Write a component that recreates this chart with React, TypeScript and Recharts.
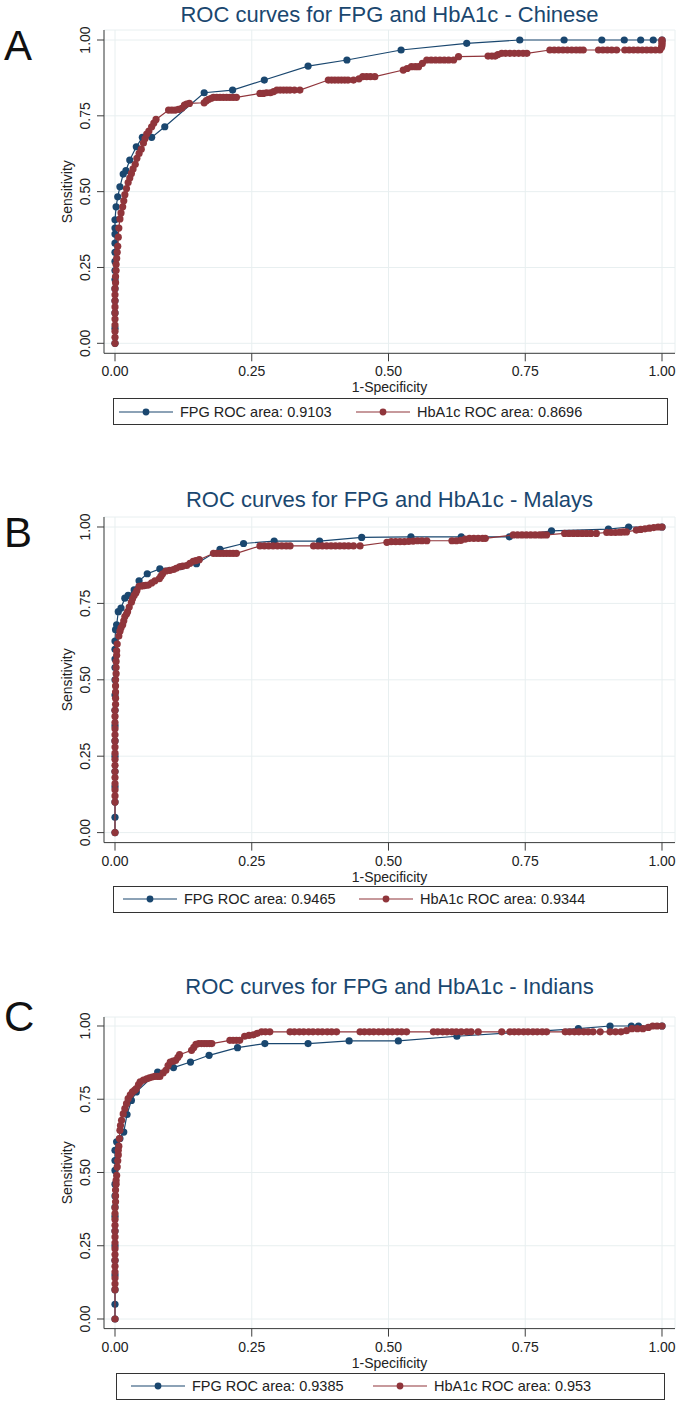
import React from "react";
import { ScatterChart, Scatter, XAxis, YAxis, CartesianGrid, Legend } from "recharts";

type Pt = [number, number];

// tick values shared by every panel
const xTicks = [0, 0.25, 0.5, 0.75, 1];
const yTicks = [0, 0.25, 0.5, 0.75, 1];

// Chinese
const chineseFpg: Pt[] = [
  [0, 0], [0, 0.05], [0, 0.1], [0, 0.14], [0, 0.18], [0, 0.21], [0, 0.24], [0, 0.27], [0, 0.3], [0, 0.33],
  [0, 0.36], [0, 0.38], [0, 0.407], [0.002, 0.45], [0.005, 0.483], [0.009, 0.516], [0.015, 0.558], [0.02, 0.569],
  [0.027, 0.604], [0.039, 0.648], [0.05, 0.679], [0.067, 0.679], [0.091, 0.714], [0.163, 0.826], [0.215, 0.835],
  [0.273, 0.868], [0.353, 0.914], [0.424, 0.934], [0.523, 0.967], [0.643, 0.989], [0.74, 1], [0.821, 1],
  [0.89, 1], [0.931, 1], [0.961, 1], [0.984, 1], [1, 1],
];
const chineseHba: Pt[] = [
  [0, 0], [0, 0.02], [0, 0.04], [0, 0.06], [0, 0.08], [0, 0.1], [0, 0.12], [0, 0.14], [0, 0.16], [0, 0.18],
  [0.001, 0.2], [0.001, 0.22], [0.002, 0.24], [0.002, 0.26], [0.003, 0.28], [0.004, 0.3], [0.005, 0.32],
  [0.006, 0.35], [0.007, 0.38], [0.009, 0.41], [0.011, 0.43], [0.014, 0.45], [0.016, 0.47], [0.018, 0.49],
  [0.021, 0.51], [0.024, 0.53], [0.027, 0.545], [0.03, 0.56], [0.033, 0.575], [0.037, 0.59], [0.04, 0.61],
  [0.044, 0.626], [0.048, 0.64], [0.052, 0.66], [0.055, 0.675], [0.058, 0.69], [0.062, 0.7], [0.067, 0.714],
  [0.071, 0.726], [0.075, 0.738],
  [0.098, 0.769], [0.104, 0.769], [0.11, 0.769], [0.116, 0.771], [0.122, 0.775], [0.127, 0.785], [0.131, 0.789],
  [0.136, 0.791], [0.163, 0.793], [0.167, 0.8], [0.171, 0.804], [0.176, 0.808], [0.18, 0.811], [0.186, 0.811],
  [0.192, 0.811], [0.198, 0.811], [0.204, 0.811], [0.21, 0.811], [0.216, 0.811], [0.222, 0.811],
  [0.265, 0.824], [0.271, 0.824], [0.277, 0.826], [0.284, 0.826], [0.29, 0.83], [0.296, 0.835], [0.302, 0.835],
  [0.308, 0.835], [0.314, 0.835], [0.32, 0.835], [0.328, 0.835], [0.338, 0.835],
  [0.39, 0.868], [0.396, 0.868], [0.402, 0.868], [0.408, 0.868], [0.414, 0.868], [0.42, 0.868], [0.426, 0.868],
  [0.436, 0.868], [0.446, 0.872], [0.453, 0.879], [0.46, 0.879], [0.467, 0.879], [0.475, 0.879],
  [0.527, 0.901], [0.534, 0.906], [0.542, 0.912], [0.549, 0.912], [0.555, 0.912], [0.562, 0.923], [0.57, 0.934],
  [0.578, 0.934], [0.586, 0.934], [0.594, 0.934], [0.602, 0.934], [0.61, 0.934], [0.619, 0.934],
  [0.628, 0.945], [0.682, 0.947], [0.689, 0.947], [0.695, 0.947], [0.7, 0.952], [0.707, 0.956], [0.714, 0.956],
  [0.722, 0.956], [0.73, 0.956], [0.738, 0.956], [0.746, 0.956], [0.753, 0.956],
  [0.795, 0.967], [0.803, 0.967], [0.811, 0.967], [0.819, 0.967], [0.827, 0.967], [0.835, 0.967], [0.843, 0.967],
  [0.85, 0.967], [0.856, 0.967], [0.884, 0.967], [0.892, 0.967], [0.9, 0.967], [0.908, 0.967], [0.917, 0.967],
  [0.932, 0.967], [0.94, 0.967], [0.948, 0.967], [0.956, 0.967], [0.964, 0.967], [0.972, 0.967], [0.98, 0.967],
  [0.988, 0.967], [0.996, 0.967], [0.999, 0.975], [1, 0.982], [1, 0.989], [1, 0.995], [1, 1],
];

// Malays
const malayFpg: Pt[] = [
  [0, 0], [0, 0.05], [0, 0.1], [0, 0.15], [0, 0.2], [0, 0.25], [0, 0.3], [0, 0.35], [0, 0.4], [0, 0.45],
  [0, 0.5], [0, 0.54], [0, 0.568], [0, 0.6], [0, 0.627], [0.001, 0.664], [0.003, 0.68], [0.006, 0.723],
  [0.011, 0.735], [0.018, 0.767], [0.024, 0.776], [0.035, 0.794], [0.044, 0.824], [0.059, 0.847], [0.082, 0.863],
  [0.12, 0.87], [0.149, 0.88], [0.192, 0.927], [0.235, 0.946], [0.291, 0.954], [0.374, 0.954], [0.451, 0.966],
  [0.541, 0.968], [0.633, 0.968], [0.721, 0.968], [0.798, 0.987], [0.902, 0.993], [0.939, 1], [1, 1],
];
const malayHba: Pt[] = [
  [0, 0], [0, 0.1], [0, 0.12], [0, 0.14], [0, 0.16], [0, 0.18], [0, 0.2], [0, 0.22], [0, 0.24], [0, 0.26],
  [0, 0.28], [0, 0.3], [0, 0.32], [0, 0.34], [0, 0.36], [0, 0.38], [0, 0.4], [0.001, 0.42], [0.001, 0.44],
  [0.001, 0.46], [0.001, 0.48], [0.001, 0.5], [0.002, 0.52], [0.002, 0.54], [0.002, 0.56], [0.003, 0.58],
  [0.003, 0.595], [0.004, 0.617], [0.007, 0.643], [0.009, 0.659], [0.011, 0.67], [0.014, 0.68], [0.016, 0.693],
  [0.018, 0.707], [0.021, 0.715], [0.023, 0.723], [0.026, 0.738], [0.03, 0.754], [0.032, 0.765], [0.035, 0.776],
  [0.038, 0.784], [0.04, 0.792], [0.044, 0.806], [0.048, 0.807], [0.052, 0.808], [0.056, 0.809], [0.061, 0.81],
  [0.067, 0.817], [0.073, 0.824], [0.081, 0.831], [0.084, 0.839], [0.087, 0.847], [0.093, 0.856], [0.1, 0.858],
  [0.107, 0.861], [0.112, 0.865], [0.118, 0.87], [0.124, 0.872], [0.131, 0.874], [0.137, 0.881], [0.143, 0.888],
  [0.148, 0.89], [0.154, 0.893],
  [0.18, 0.914], [0.186, 0.914], [0.192, 0.914], [0.198, 0.914], [0.204, 0.914], [0.21, 0.914], [0.216, 0.914],
  [0.222, 0.914],
  [0.265, 0.938], [0.273, 0.938], [0.281, 0.938], [0.289, 0.938], [0.297, 0.938], [0.305, 0.938], [0.313, 0.938],
  [0.32, 0.938], [0.363, 0.938], [0.371, 0.938], [0.379, 0.938], [0.387, 0.938], [0.395, 0.938], [0.403, 0.938],
  [0.411, 0.938], [0.419, 0.938], [0.427, 0.938], [0.436, 0.938], [0.448, 0.938],
  [0.497, 0.95], [0.505, 0.952], [0.513, 0.952], [0.521, 0.952], [0.529, 0.952], [0.537, 0.953], [0.545, 0.954],
  [0.553, 0.955], [0.561, 0.955], [0.57, 0.955],
  [0.616, 0.955], [0.624, 0.955], [0.632, 0.956], [0.64, 0.96], [0.648, 0.963], [0.656, 0.963], [0.664, 0.963],
  [0.672, 0.963], [0.677, 0.963],
  [0.728, 0.974], [0.736, 0.974], [0.744, 0.974], [0.752, 0.974], [0.76, 0.974], [0.768, 0.974], [0.776, 0.974],
  [0.782, 0.974], [0.789, 0.974],
  [0.822, 0.979], [0.83, 0.979], [0.838, 0.979], [0.846, 0.979], [0.854, 0.979], [0.862, 0.979], [0.87, 0.979],
  [0.88, 0.979], [0.899, 0.982], [0.907, 0.982], [0.915, 0.982], [0.923, 0.983], [0.929, 0.984], [0.935, 0.984],
  [0.953, 0.99], [0.961, 0.992], [0.969, 0.994], [0.977, 0.996], [0.985, 0.998], [0.993, 1], [1, 1],
];

// Indians
const indianFpg: Pt[] = [
  [0, 0], [0, 0.05], [0, 0.1], [0, 0.15], [0, 0.2], [0, 0.25], [0, 0.3], [0, 0.35], [0, 0.382], [0, 0.42],
  [0, 0.46], [0, 0.507], [0, 0.541], [0, 0.576], [0.003, 0.605], [0.009, 0.616], [0.016, 0.638], [0.022, 0.698],
  [0.03, 0.746], [0.039, 0.775], [0.078, 0.843], [0.107, 0.858], [0.138, 0.877], [0.172, 0.9], [0.224, 0.926],
  [0.274, 0.94], [0.353, 0.94], [0.428, 0.949], [0.518, 0.949], [0.625, 0.965], [0.847, 0.991], [0.905, 1],
  [0.944, 1], [0.957, 1], [1, 1],
];
const indianHba: Pt[] = [
  [0, 0], [0, 0.1], [0, 0.12], [0, 0.14], [0, 0.16], [0, 0.18], [0, 0.2], [0, 0.22], [0, 0.24], [0, 0.26],
  [0, 0.28], [0, 0.3], [0, 0.32], [0, 0.34], [0, 0.36], [0, 0.38], [0.001, 0.4], [0.001, 0.42], [0.001, 0.44],
  [0.002, 0.46], [0.002, 0.473], [0.003, 0.49], [0.004, 0.519], [0.005, 0.54], [0.006, 0.56], [0.006, 0.576],
  [0.007, 0.59], [0.008, 0.616], [0.009, 0.644], [0.01, 0.66], [0.012, 0.678], [0.015, 0.7], [0.018, 0.718],
  [0.021, 0.735], [0.024, 0.752], [0.028, 0.765], [0.032, 0.775], [0.036, 0.781], [0.039, 0.786], [0.043, 0.8],
  [0.046, 0.809], [0.052, 0.815], [0.058, 0.82], [0.063, 0.823], [0.068, 0.826], [0.073, 0.828], [0.078, 0.828],
  [0.082, 0.828], [0.088, 0.84], [0.093, 0.849], [0.097, 0.865], [0.101, 0.877], [0.106, 0.88], [0.111, 0.883],
  [0.115, 0.893], [0.118, 0.902],
  [0.14, 0.917], [0.144, 0.927], [0.148, 0.937], [0.153, 0.94], [0.158, 0.94], [0.163, 0.94], [0.168, 0.94],
  [0.173, 0.94], [0.177, 0.94],
  [0.21, 0.951], [0.216, 0.951], [0.222, 0.951], [0.228, 0.951], [0.237, 0.965], [0.245, 0.968], [0.253, 0.97],
  [0.26, 0.975], [0.268, 0.98], [0.275, 0.98], [0.283, 0.98],
  [0.32, 0.98], [0.328, 0.98], [0.337, 0.98], [0.345, 0.98], [0.354, 0.98], [0.362, 0.98], [0.371, 0.98],
  [0.379, 0.98], [0.388, 0.98], [0.396, 0.98], [0.405, 0.98],
  [0.448, 0.98], [0.456, 0.98], [0.465, 0.98], [0.473, 0.98], [0.482, 0.98], [0.49, 0.98], [0.499, 0.98],
  [0.507, 0.98], [0.516, 0.98], [0.524, 0.98], [0.533, 0.98],
  [0.582, 0.98], [0.59, 0.98], [0.599, 0.98], [0.607, 0.98], [0.616, 0.98], [0.624, 0.98], [0.633, 0.98],
  [0.643, 0.98], [0.651, 0.98], [0.664, 0.98],
  [0.707, 0.98], [0.722, 0.98], [0.73, 0.98], [0.738, 0.98], [0.747, 0.98], [0.755, 0.98], [0.764, 0.98],
  [0.772, 0.98], [0.781, 0.98], [0.789, 0.98],
  [0.823, 0.98], [0.831, 0.98], [0.84, 0.98], [0.848, 0.98], [0.857, 0.98], [0.865, 0.98], [0.874, 0.98],
  [0.887, 0.98], [0.905, 0.98], [0.915, 0.98], [0.925, 0.98], [0.935, 0.984], [0.945, 0.991], [0.955, 0.991],
  [0.965, 0.991], [0.975, 0.995], [0.983, 1], [0.991, 1], [1, 1],
];

const FPG_COLOR = "#1a476f";
const HBA_COLOR = "#90353b";
const FONT = '"Liberation Sans", Arial, sans-serif';
const TEXT = "#222";
const AXIS = "#3c3c3c";
const FS = 14;
const LEGEND_FS = 14.5;

const X_DOMAIN: [number, number] = [-11 / 547, 1 + 13 / 547];

const panels = [
  {
    letter: "A", title: "ROC curves for FPG and HbA1c - Chinese",
    fpg: chineseFpg, hba: chineseHba,
    fpgName: "FPG ROC area: 0.9103", hbaName: "HbA1c ROC area: 0.8696",
    axisTop: 30, y1: 40, y0: 343.3, axisBottom: 353.3,
    titleBase: 23, letterBase: 60,
    legendTop: 398, legendLeft: 113, legendWidth: 555, item1: 5, item2: 242,
  },
  {
    letter: "B", title: "ROC curves for FPG and HbA1c - Malays",
    fpg: malayFpg, hba: malayHba,
    fpgName: "FPG ROC area: 0.9465", hbaName: "HbA1c ROC area: 0.9344",
    axisTop: 516.7, y1: 526.7, y0: 832.3, axisBottom: 842.3,
    titleBase: 508, letterBase: 547,
    legendTop: 886, legendLeft: 113, legendWidth: 555, item1: 9, item2: 245,
  },
  {
    letter: "C", title: "ROC curves for FPG and HbA1c - Indians",
    fpg: indianFpg, hba: indianHba,
    fpgName: "FPG ROC area: 0.9385", hbaName: "HbA1c ROC area: 0.953",
    axisTop: 1016.7, y1: 1025.7, y0: 1318.7, axisBottom: 1328.3,
    titleBase: 995, letterBase: 1031,
    legendTop: 1373, legendLeft: 116, legendWidth: 549, item1: 14, item2: 256,
  },
];

const toRows = (pts: Pt[]) => pts.map(([fpr, sens]) => ({ fpr, sens }));

const dot = (color: string) => (p: any) => <circle cx={p.cx} cy={p.cy} r={3.6} fill={color} />;

function YTick({ x, y, payload }: any) {
  return (
    <text x={x} y={y} transform={`rotate(-90 ${x} ${y})`} textAnchor="middle"
      fontSize={FS} fill={TEXT} fontFamily={FONT}>
      {Number(payload.value).toFixed(2)}
    </text>
  );
}

type Item = { name: string; color: string; left: number };

function LegendBox({ width, items }: { width: number; items: Item[] }) {
  return (
    <div style={{
      width, height: 27, border: "1px solid #333", boxSizing: "border-box", position: "relative",
      background: "#fff", fontFamily: FONT, fontSize: LEGEND_FS, color: TEXT,
    }}>
      {items.map((it) => (
        <div key={it.name} style={{
          position: "absolute", left: it.left, top: 0, height: 25,
          display: "flex", alignItems: "center", whiteSpace: "nowrap",
        }}>
          <svg width={54} height={10}>
            <line x1={0} y1={5} x2={54} y2={5} stroke={it.color} strokeWidth={1.2} />
            <circle cx={27} cy={5} r={3.4} fill={it.color} />
          </svg>
          <span style={{ marginLeft: 7 }}>{it.name}</span>
        </div>
      ))}
    </div>
  );
}

function Panel(p: (typeof panels)[number]) {
  const span = p.y0 - p.y1;
  const yDomain: [number, number] = [-(p.axisBottom - p.y0) / span, 1 + (p.y1 - p.axisTop) / span];
  const chartTop = p.axisTop - 30;
  const height = p.legendTop + 32 - chartTop;
  const plotH = p.axisBottom - p.axisTop;
  const items: Item[] = [
    { name: p.fpgName, color: FPG_COLOR, left: p.item1 },
    { name: p.hbaName, color: HBA_COLOR, left: p.item2 },
  ];
  return (
    <>
      <div style={{
        position: "absolute", left: 4, top: p.letterBase - 35.5, fontFamily: FONT,
        fontSize: 42, lineHeight: "42px", color: "#111",
      }}>{p.letter}</div>
      <div style={{
        position: "absolute", left: 104, width: 571, top: p.titleBase - 18.6, textAlign: "center",
        fontFamily: FONT, fontSize: 22, lineHeight: "22px", color: FPG_COLOR, whiteSpace: "nowrap",
      }}>{p.title}</div>
      <div style={{ position: "absolute", left: 0, top: chartTop }}>
        <ScatterChart width={685} height={height}
          margin={{ top: 30, right: 10, left: 44, bottom: height - 30 - plotH - 50 }}>
          <CartesianGrid stroke="#e8eff0" strokeWidth={1} />
          <XAxis type="number" dataKey="fpr" domain={X_DOMAIN} ticks={xTicks} height={50}
            tickFormatter={(v: number) => v.toFixed(2)} tickSize={8} tickMargin={5}
            stroke={AXIS} tick={{ fontSize: FS, fill: TEXT, fontFamily: FONT }}
            label={{
              content: ({ viewBox }: any) => (
                <text x={viewBox.x + viewBox.width / 2} y={viewBox.y + 39} textAnchor="middle"
                  fontSize={FS} fill={TEXT} fontFamily={FONT}>1-Specificity</text>
              ),
            }} />
          <YAxis type="number" dataKey="sens" domain={yDomain} ticks={yTicks} width={60}
            tickSize={7} tickMargin={7} stroke={AXIS} tick={<YTick />}
            label={{
              content: ({ viewBox }: any) => {
                const x = viewBox.x + 28;
                const y = viewBox.y + viewBox.height / 2;
                return (
                  <text x={x} y={y} transform={`rotate(-90 ${x} ${y})`} textAnchor="middle"
                    fontSize={FS} fill={TEXT} fontFamily={FONT}>Sensitivity</text>
                );
              },
            }} />
          <Legend verticalAlign="middle" align="center" layout="horizontal"
            wrapperStyle={{ top: p.legendTop - chartTop, left: p.legendLeft, width: p.legendWidth }}
            content={() => <LegendBox width={p.legendWidth} items={items} />} />
          <Scatter name={p.fpgName} data={toRows(p.fpg)} fill={FPG_COLOR}
            line={{ stroke: FPG_COLOR, strokeWidth: 1.2 }} shape={dot(FPG_COLOR)} isAnimationActive={false} />
          <Scatter name={p.hbaName} data={toRows(p.hba)} fill={HBA_COLOR}
            line={{ stroke: HBA_COLOR, strokeWidth: 1.2 }} shape={dot(HBA_COLOR)} isAnimationActive={false} />
        </ScatterChart>
      </div>
    </>
  );
}

export default function App() {
  return (
    <div style={{ position: "absolute", left: 0, top: 0, width: 685, height: 1416, background: "#fff", overflow: "hidden" }}>
      {panels.map((p) => <Panel key={p.letter} {...p} />)}
    </div>
  );
}
